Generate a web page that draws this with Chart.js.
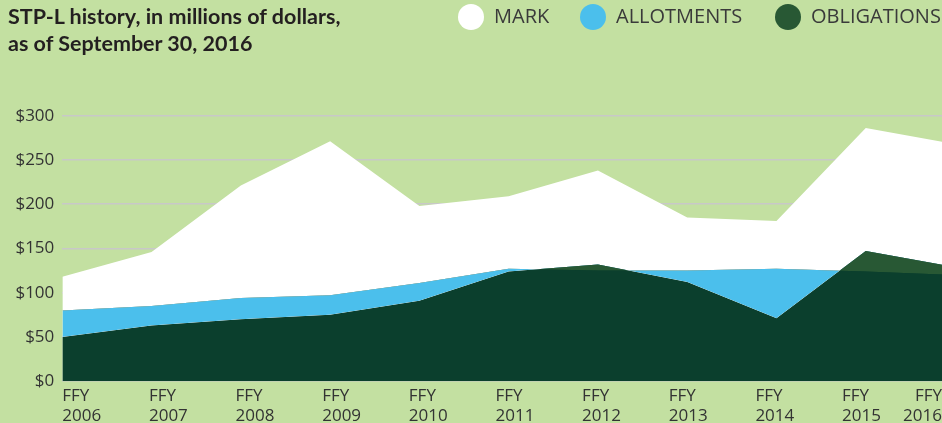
<!DOCTYPE html>
<html><head><meta charset="utf-8">
<script src="https://cdn.jsdelivr.net/npm/chart.js@4.4.1/dist/chart.umd.min.js"></script>
<style>
html,body{margin:0;padding:0;background:#c3e0a1;width:942px;height:423px;overflow:hidden;font-family:"Open Sans",sans-serif;}
#wrap{position:relative;width:942px;height:423px;}
canvas{position:absolute;left:0;top:0;}
#title{position:absolute;left:8px;top:3px;font-family:Lato,"Open Sans",sans-serif;font-weight:700;font-size:21.5px;line-height:27px;color:#231f20;white-space:nowrap;}
.lg{position:absolute;top:3px;font-size:20px;line-height:26px;color:#3a3a3a;white-space:nowrap;}
.dot{position:absolute;top:4px;width:26px;height:26px;border-radius:50%;}
</style></head>
<body><div id="wrap">
<canvas id="c" width="942" height="423"></canvas>
<div id="title">STP-L history, in millions of dollars,<br>as of September 30, 2016</div>
<div id="legend"></div>
</div>
<script>
// ---- data ----
const years = [2006, 2007, 2008, 2009, 2010, 2011, 2012, 2013, 2014, 2015, 2016];
const xLabels = [['FFY','2006'],['FFY','2007'],['FFY','2008'],['FFY','2009'],['FFY','2010'],['FFY','2011'],['FFY','2012'],['FFY','2013'],['FFY','2014'],['FFY','2015'],['FFY','2016']];
const mark        = [118, 146, 221, 271, 198, 209, 238, 185, 181, 286, 268];
const allotments  = [ 80,  85,  94,  97, 111, 127, 125, 125, 127, 124, 120];
const obligations = [ 50,  63,  70,  75,  91, 124, 132, 112,  71, 147, 129];
const yTicks = [0, 50, 100, 150, 200, 250, 300];
const seriesNames = ['MARK', 'ALLOTMENTS', 'OBLIGATIONS'];

// ---- styles ----
const C_MARK = '#ffffff', C_ALLOT = '#4bbfec', C_OBL = '#285834', C_OVER = '#0b3f2d';
const NONE = 'rgba(0,0,0,0)';

// legend (HTML)
const legendSpec = [
  {name: seriesNames[0], color: C_MARK, dot: 458, text: 494},
  {name: seriesNames[1], color: C_ALLOT, dot: 580, text: 616},
  {name: seriesNames[2], color: C_OBL, dot: 775, text: 811}
];
const lg = document.getElementById('legend');
legendSpec.forEach(s => {
  const d = document.createElement('div'); d.className = 'dot'; d.style.left = s.dot + 'px'; d.style.background = s.color; lg.appendChild(d);
  const t = document.createElement('div'); t.className = 'lg'; t.style.left = s.text + 'px'; t.textContent = s.name; lg.appendChild(t);
});

const pts = arr => years.map((y, i) => ({x: y, y: arr[i]}));

const xLabelPlugin = {
  id: 'xLabelPlugin',
  afterDraw(chart) {
    const s = chart.scales.xl, ctx = chart.ctx, area = chart.chartArea;
    ctx.save();
    ctx.font = '17px "Open Sans"';
    ctx.fillStyle = '#333333';
    ctx.textBaseline = 'alphabetic';
    xLabels.forEach((lines, i) => {
      const px = s.getPixelForValue(i);
      const w = Math.max(...lines.map(t => ctx.measureText(t).width));
      let x = px; ctx.textAlign = 'left';
      if (px + w > area.right) { x = area.right; ctx.textAlign = 'right'; }
      lines.forEach((t, j) => ctx.fillText(t, x, area.bottom + 20 + j * 19.5));
    });
    ctx.restore();
  }
};

const common = {borderColor: NONE, borderWidth: 0, pointRadius: 0, pointHoverRadius: 0, tension: 0};

new Chart(document.getElementById('c'), {
  type: 'line',
  data: {
    datasets: [
      Object.assign({label: seriesNames[0], data: pts(mark), fill: 'origin', backgroundColor: C_MARK, order: 4}, common),
      Object.assign({label: seriesNames[2], data: pts(obligations), fill: 'origin', backgroundColor: C_OVER, order: 3}, common),
      Object.assign({label: seriesNames[1], data: pts(allotments), fill: {target: 1, above: C_ALLOT, below: NONE}, backgroundColor: C_ALLOT, order: 2}, common),
      Object.assign({label: seriesNames[2], data: pts(obligations), fill: {target: 2, above: C_OBL, below: NONE}, backgroundColor: C_OBL, order: 1}, common)
    ]
  },
  options: {
    responsive: false,
    animation: false,
    devicePixelRatio: 1,
    layout: {padding: {top: 115.7, bottom: 41.8, left: 0, right: 0}},
    plugins: {legend: {display: false}, tooltip: {enabled: false}, title: {display: false}},
    scales: {
      x: {type: 'linear', min: 2006, max: 2015.854, display: false},
      xl: {type: 'linear', axis: 'x', position: 'bottom', min: 0, max: 10.154, display: false},
      y: {
        type: 'linear', min: 0, max: 300, position: 'left', z: 1,
        afterBuildTicks: s => { s.ticks = yTicks.map(v => ({value: v})); },
        afterFit: s => { s.width = 62.3; },
        border: {display: false},
        grid: {color: '#c8c8c8', lineWidth: 1.5, drawTicks: false},
        ticks: {padding: 8, color: '#333333', font: {family: '"Open Sans"', size: 17}, callback: v => '$' + v}
      }
    }
  },
  plugins: [xLabelPlugin]
});
</script>
</body></html>
